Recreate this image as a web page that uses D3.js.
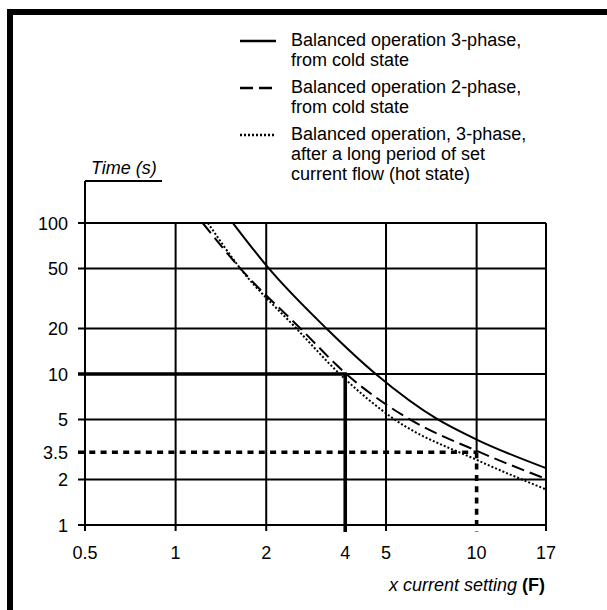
<!DOCTYPE html>
<html>
<head>
<meta charset="utf-8">
<script src="https://cdn.jsdelivr.net/npm/d3@7"></script>
<style>
  html, body { margin: 0; padding: 0; background: #fff; }
  svg { display: block; font-family: "Liberation Sans", Arial, sans-serif; }
</style>
</head>
<body>
<div id="chart"></div>
<script>
// x = multiple of current setting, t = trip time in seconds
const coldThreePhase = [
  { x: 1.55, t: 100 }, { x: 2.04, t: 50 }, { x: 3.17, t: 20 }, { x: 4.62, t: 10 },
  { x: 7.43, t: 5 }, { x: 10, t: 3.68 }, { x: 17, t: 2.38 }
]
const coldTwoPhase = [
  { x: 1.23, t: 100 }, { x: 1.64, t: 50 }, { x: 2.6, t: 20 }, { x: 3.69, t: 10 },
  { x: 6.0, t: 5 }, { x: 10, t: 3.1 }, { x: 17, t: 2.02 }
]
const hotThreePhase = [
  { x: 1.28, t: 100 }, { x: 1.64, t: 50 }, { x: 2.52, t: 20 }, { x: 3.51, t: 10 },
  { x: 5.34, t: 5 }, { x: 10, t: 2.7 }, { x: 17, t: 1.72 }
]

// grid / tick values (the "4" and "3.5" marks sit where the picture puts them)
const xGrid = [0.5, 1, 2, 5, 10, 17]
const yGrid = [1, 2, 5, 10, 20, 50, 100]
const xTicks = [0.5, 1, 2, 3.66, 5, 10, 17]
const xTickLabels = ['0.5', '1', '2', '4', '5', '10', '17']
const yTicks = [1, 2, 3.03, 5, 10, 20, 50, 100]
const yTickLabels = ['1', '2', '3.5', '5', '10', '20', '50', '100']

// reference readings: 10 s at "4", "3.5" s at 10
const refSolid = { x: 3.66, t: 10 }
const refDashed = { x: 10, t: 3.03 }

const legendItems = [
  { dash: null, lines: ['Balanced operation 3-phase,', 'from cold state'] },
  { dash: '13,6', lines: ['Balanced operation 2-phase,', 'from cold state'] },
  { dash: '2,2', lines: ['Balanced operation, 3-phase,', 'after a long period of set', 'current flow (hot state)'] }
]

const width = 607
const height = 610
const fontSize = 18

const svg = d3.select('#chart').append('svg')
  .attr('width', width)
  .attr('height', height)

const x = d3.scaleLog().domain([0.5, 17]).range([85, 546])
const y = d3.scaleLog().domain([1, 100]).range([525, 223])

// frame (right / bottom edges fall outside the picture)
svg.append('rect')
  .attr('x', 10).attr('y', 12)
  .attr('width', 640).attr('height', 640)
  .attr('fill', 'none')
  .attr('stroke', '#000')
  .attr('stroke-width', 6)

const grid = svg.append('g').attr('stroke', '#000').attr('stroke-width', 2)

// horizontal grid, with tick stubs to the left
grid.selectAll('line.h')
  .data(yGrid)
  .join('line')
  .attr('class', 'h')
  .attr('x1', x(0.5) - 7)
  .attr('x2', x(17))
  .attr('y1', (d) => y(d))
  .attr('y2', (d) => y(d))

// vertical grid, with tick stubs below
grid.selectAll('line.v')
  .data(xGrid)
  .join('line')
  .attr('class', 'v')
  .attr('x1', (d) => x(d))
  .attr('x2', (d) => x(d))
  .attr('y1', (d) => d === 0.5 ? 181 : y(100))
  .attr('y2', (d) => d === refDashed.x ? y(refDashed.t) : y(1) + 6)

// y axis title underline
grid.append('line')
  .attr('x1', x(0.5)).attr('x2', 162)
  .attr('y1', 181).attr('y2', 181)

// reference lines
const ref = svg.append('g').attr('stroke', '#000').attr('stroke-width', 3.6).attr('fill', 'none')
ref.append('path')
  .attr('d', `M${x(0.5) - 7},${y(refSolid.t)}H${x(refSolid.x)}V${y(1) + 7}`)
ref.append('path')
  .attr('stroke-dasharray', '6,5.3')
  .attr('d', `M${x(0.5) - 7},${y(refDashed.t)}H${x(refDashed.x)}`)
ref.append('path')
  .attr('stroke-dasharray', '6,5.3')
  .attr('d', `M${x(refDashed.x)},${y(refDashed.t)}V${y(1) + 7}`)

// curves
const line = d3.line()
  .x((d) => x(d.x))
  .y((d) => y(d.t))
  .curve(d3.curveMonotoneX)

const curves = [
  { data: coldThreePhase, dash: null },
  { data: coldTwoPhase, dash: '13,6' },
  { data: hotThreePhase, dash: '2,2' }
]

svg.append('g')
  .attr('fill', 'none')
  .attr('stroke', '#000')
  .attr('stroke-width', 2)
  .selectAll('path')
  .data(curves)
  .join('path')
  .attr('stroke-dasharray', (d) => d.dash)
  .attr('d', (d) => line(d.data))

// tick labels
svg.append('g')
  .attr('font-size', fontSize)
  .attr('text-anchor', 'end')
  .selectAll('text')
  .data(yTicks)
  .join('text')
  .attr('x', 68)
  .attr('y', (d) => y(d) + 6.5)
  .text((d, i) => yTickLabels[i])

svg.append('g')
  .attr('font-size', fontSize)
  .attr('text-anchor', 'middle')
  .selectAll('text')
  .data(xTicks)
  .join('text')
  .attr('x', (d) => x(d))
  .attr('y', 559)
  .text((d, i) => xTickLabels[i])

// axis titles
svg.append('text')
  .attr('x', 91).attr('y', 174)
  .attr('font-size', fontSize)
  .attr('font-style', 'italic')
  .text('Time (s)')

const xTitle = svg.append('text')
  .attr('x', 545).attr('y', 591)
  .attr('font-size', fontSize)
  .attr('text-anchor', 'end')
xTitle.append('tspan').attr('font-style', 'italic').text('x current setting ')
xTitle.append('tspan').attr('font-weight', 'bold').text('(F)')

// legend
const legend = svg.append('g')
  .selectAll('g')
  .data(legendItems)
  .join('g')
  .attr('transform', (d, i) => `translate(0,${46 + i * 47})`)

legend.append('line')
  .attr('x1', 240).attr('x2', 276)
  .attr('y1', -5).attr('y2', -5)
  .attr('stroke', '#000')
  .attr('stroke-width', 2.5)
  .attr('stroke-dasharray', (d) => d.dash)

legend.append('text')
  .attr('font-size', fontSize)
  .selectAll('tspan')
  .data((d) => d.lines)
  .join('tspan')
  .attr('x', 291)
  .attr('y', (d, i) => i * 20)
  .text((d) => d)
</script>
</body>
</html>
